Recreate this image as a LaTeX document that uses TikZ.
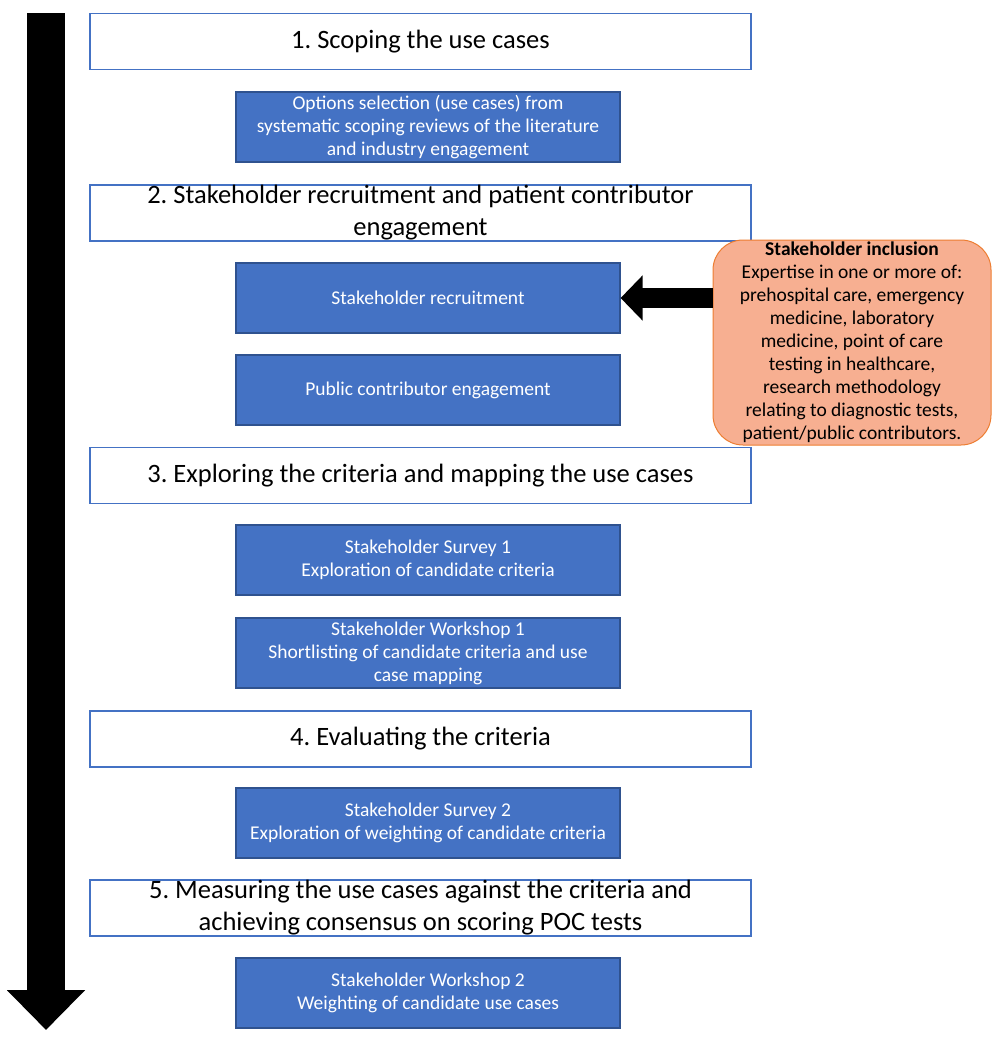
\documentclass[tikz,border=0pt]{standalone}
\usepackage{fontspec}
\setmainfont{Carlito}
\usetikzlibrary{arrows.meta,positioning}
\definecolor{boxblue}{RGB}{68,114,196}
\definecolor{edgeblue}{RGB}{47,82,143}
\definecolor{salmon}{RGB}{247,175,145}
\definecolor{edgeorange}{RGB}{237,125,49}
\frenchspacing

\begin{document}
\begin{tikzpicture}[x=1pt,y=-1pt]
\tikzstyle{every node}=[font=\fontsize{19.5}{23}\selectfont]
\tikzstyle{header}=[draw=boxblue, line width=1.2pt, fill=white, minimum width=661pt, minimum height=56pt]
\tikzstyle{task}=[draw=edgeblue, line width=1.2pt, fill=boxblue, text=white, align=center, minimum width=384pt, minimum height=70pt, inner sep=0pt]
\tikzstyle{htext}=[align=center, font=\fontsize{26.5}{32}\selectfont]
\useasboundingbox (0,0) rectangle (1000,1044);
% timeline arrow
\coordinate (top) at (46,13);
\coordinate (bottom) at (46,1030);
\draw [line width=38pt, -{Triangle[length=40pt,width=76pt]}] (top) -- (bottom);
% stages
\node[header, label={[htext]center:1. Scoping the use cases}] (h1) at (420.5,41.5) {};
\node[task] (scope) at (428,127) {Options selection (use cases) from\\
  systematic scoping reviews of the literature\\ and industry engagement};
\node[header, label={[htext]center:2. Stakeholder recruitment and patient contributor\\ engagement}] (h2) at (420.5,213) {};
\node[task] (recruit) at (428,298) {Stakeholder recruitment};
\node[task] (public) at (428,390) {Public contributor engagement};
\node[header, label={[htext]center:3. Exploring the criteria and mapping the use cases}] (h3) at (420.5,475.5) {};
\node[task] (survey1) at (428,560) {Stakeholder Survey 1\\ Exploration of candidate criteria};
\node[task] (workshop1) at (428,653) {Stakeholder Workshop 1\\ Shortlisting of candidate criteria and use\\ case mapping};
\node[header, label={[htext]center:4. Evaluating the criteria}] (h4) at (420.5,739) {};
\node[task] (survey2) at (428,823) {Stakeholder Survey 2\\ Exploration of weighting of candidate criteria};
\node[header, label={[htext]center:5. Measuring the use cases against the criteria and\\ achieving consensus on scoring POC tests}] (h5) at (420.5,908) {};
\node[task] (workshop2) at (428,993) {Stakeholder Workshop 2\\ Weighting of candidate use cases};
% inclusion box
\node[draw=edgeorange, line width=1pt, fill=salmon, rounded corners=30pt, align=center,
  minimum width=278pt, minimum height=205pt, inner sep=0pt] (incl) at (852,342.5)
  {\textbf{Stakeholder inclusion}\\ Expertise in one or more of:\\ prehospital care, emergency\\
   medicine, laboratory\\ medicine, point of care\\ testing in healthcare,\\
   research methodology\\ relating to diagnostic tests,\\ patient/public contributors.};
\draw [line width=20pt, -{Triangle[length=22pt,width=44pt]}] (incl.west |- recruit.east) -- (recruit.east);
\end{tikzpicture}
\end{document}
